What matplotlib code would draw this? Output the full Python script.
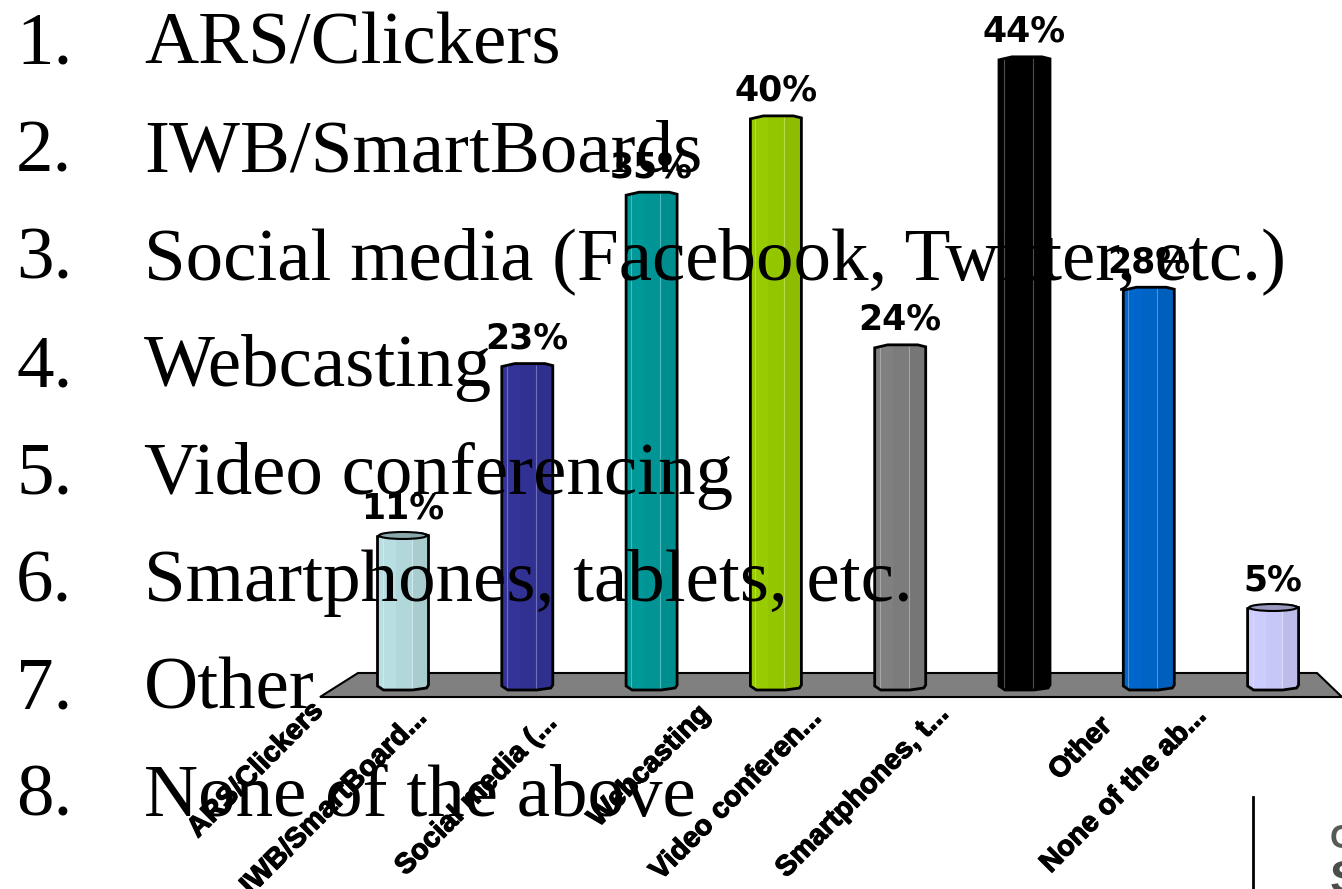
import matplotlib
matplotlib.use("Agg")
import matplotlib.pyplot as plt
import matplotlib.patheffects as pe
from matplotlib.patches import Polygon, Ellipse
from matplotlib.colors import to_rgb

# list printed over the chart
options = ["ARS/Clickers", "IWB/SmartBoards", "Social media (Facebook, Twitter, etc.)",
           "Webcasting", "Video conferencing", "Smartphones, tablets, etc.",
           "Other", "None of the above"]

# clipped category labels as they appear under the bars
tick_labels = ["ARS/Clickers", "IWB/SmartBoard...", "Social media (...", "Webcasting",
               "Video conferen...", "Smartphones, t...", "Other", "None of the ab..."]
value_labels = ["11%", "23%", "35%", "40%", "24%", "44%", "28%", "5%"]
values = [10.8, 22.6, 34.5, 39.8, 23.9, 43.9, 27.9, 5.8]
colors = ["#B8DEE1", "#333399", "#009999", "#99CC00", "#808080", "#000000", "#0066CC", "#CCCCFF"]

# pixel layout of the slide
W, H = 1342, 889
BASE_Y = 690
PX_PER_PCT = 14.4
X0 = 403
PX_PER_CAT = 124.3
BAR_PX = 51

fig = plt.figure(figsize=(W / 100, H / 100), dpi=100)
ax = fig.add_axes([0, 0, 1, 1])
ax.set_xlim(-X0 / PX_PER_CAT, (W - X0) / PX_PER_CAT)
ax.set_ylim((BASE_Y - H) / PX_PER_PCT, BASE_Y / PX_PER_PCT)
ax.axis("off")


def px(x, y):
    # slide pixels to data coordinates, for the decoration only
    return (x - X0) / PX_PER_CAT, (BASE_Y - y) / PX_PER_PCT


def shade(color, f):
    return tuple(min(1, c * f) for c in to_rgb(color))


def lighten(color, f):
    return tuple(c + (1 - c) * f for c in to_rgb(color))


# floor
ax.add_patch(Polygon([px(320, 697), px(358, 673), px(1317, 673), px(1342, 697)],
                     closed=True, fc="#808080", ec="black", lw=1.5, zorder=1))

dx = 1 / PX_PER_CAT
dy = 1 / PX_PER_PCT
w = BAR_PX * dx

for i, (v, c) in enumerate(zip(values, colors)):
    l, r = i - w / 2, i + w / 2
    outline = [(l, 4 * dy), (l + 6 * dx, 0), (l + 35 * dx, 0), (r - 2 * dx, 2 * dy), (r, 5 * dy),
               (r, v - 1 * dy), (r - 8 * dx, v + 1 * dy), (l + 13 * dx, v + 1 * dy), (l, v - 2 * dy)]
    clip = Polygon(outline, closed=True, fc="none", ec="none", transform=ax.transData)
    ax.add_patch(clip)
    # three facets give the flat cylinder look
    facets = [(l, 18, 1.0), (l + 18 * dx, 16, 0.97), (l + 34 * dx, 17, 0.92)]
    for left, fw, f in facets:
        b = ax.bar(left, v + 2 * dy, width=fw * dx, bottom=-1 * dy, align="edge",
                   color=shade(c, f), lw=0, zorder=2)
        b[0].set_clip_path(clip)
    # thin highlights between the facets
    for off in (5, 34):
        ln = ax.vlines(l + off * dx, 0, v, color=lighten(c, 0.3), lw=0.8, zorder=2)
        ln.set_clip_path(clip)
    ax.add_patch(Polygon(outline, closed=True, fc="none", ec="black", lw=2, zorder=3))
    if v < 12:
        # only the short bars show their top cap
        ax.add_patch(Ellipse((i, v - 1 * dy), BAR_PX * dx * 0.94, 7 * dy,
                             fc=shade(c, 0.75), ec="black", lw=1.5, zorder=3))
    ax.annotate(value_labels[i], xy=(i, v), xytext=(0, 16), textcoords="offset pixels",
                ha="center", va="baseline", fontsize=25, fontweight="bold",
                family="DejaVu Sans", color="black", zorder=4)

# category label ends, offset from each bar's foot
tick_dx = [-93, -114, -108, -79, -92, -89, -50, -80]
tick_dy = [-8, -15, -20, -11, -15, -11, -23, -13]
for i, lab in enumerate(tick_labels):
    ax.annotate(lab, xy=(i, 0), xytext=(tick_dx[i], tick_dy[i]), textcoords="offset pixels",
                ha="right", va="top", rotation=45, rotation_mode="anchor",
                fontsize=20.5, fontweight="bold", family="Liberation Sans", color="black", zorder=4,
                path_effects=[pe.withStroke(linewidth=0.9, foreground="black")])

# numbered list sits on top of everything
for i, opt in enumerate(options):
    x_n, y_b = px(16, 64 + 107.4 * i)
    x_t, _ = px(144, 64 + 107.4 * i)
    ax.text(x_n, y_b, f"{i + 1}.", fontsize=54, family="Liberation Serif", va="baseline", zorder=5)
    ax.text(x_t, y_b, opt, fontsize=54, family="Liberation Serif", va="baseline", zorder=5)

# leftover slide footer at the corner
ax.plot(*zip(px(1253, 797), px(1253, 889)), color="black", lw=2, zorder=1)
x_c, y_c = px(1330, 848)
ax.text(x_c, y_c, "C", fontsize=24, fontweight="bold", family="Liberation Sans",
        color="#555a55", va="baseline", clip_on=True)
x_s, y_s = px(1330, 893)
ax.text(x_s, y_s, "S", fontsize=34, fontweight="bold", family="Liberation Sans",
        color="#4a4e4a", va="baseline", clip_on=True)

fig.savefig("out.png", dpi=100)
